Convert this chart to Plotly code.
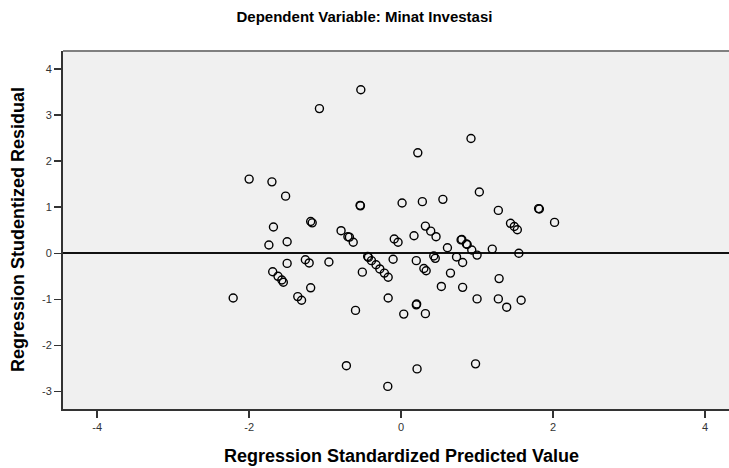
import plotly.graph_objects as go

predicted = [
    -2.21, -2.00, -1.70, -1.52, -1.075, -0.53, -0.54, -0.535,
    -1.68, -1.74, -1.50, -1.50, -1.69, -1.62, -1.57, -1.55,
    -1.36, -1.31, -1.19, -1.26, -1.21, -1.19, -1.17, -0.95,
    -0.79, -0.70, -0.68, -0.63, -0.72, -0.60, -0.51, -0.44,
    -0.43, -0.39, -0.33, -0.28, -0.22, -0.17, -0.17, -0.175,
    -0.105, -0.09, -0.04, 0.013, 0.035, 0.17, 0.20, 0.20,
    0.205, 0.21, 0.22, 0.28, 0.30, 0.33, 0.32, 0.32,
    0.39, 0.46, 0.43, 0.45, 0.53, 0.55, 0.61, 0.65,
    0.73, 0.79, 0.80, 0.86, 0.87, 0.81, 0.81, 0.92,
    0.93, 1.00, 1.00, 0.98, 1.03, 1.20, 1.28, 1.29,
    1.28, 1.39, 1.44, 1.49, 1.53, 1.55, 1.58, 1.81,
    1.82, 2.02,
]
residual = [
    -0.97, 1.61, 1.55, 1.24, 3.14, 3.55, 1.04, 1.03,
    0.57, 0.18, 0.25, -0.22, -0.40, -0.50, -0.58, -0.63,
    -0.94, -1.02, -0.75, -0.14, -0.21, 0.69, 0.66, -0.19,
    0.49, 0.36, 0.35, 0.24, -2.44, -1.24, -0.41, -0.07,
    -0.09, -0.16, -0.25, -0.34, -0.43, -0.52, -0.97, -2.89,
    -0.13, 0.31, 0.24, 1.09, -1.32, 0.38, -0.16, -1.12,
    -1.10, -2.51, 2.18, 1.12, -0.33, -0.38, -1.31, 0.59,
    0.48, 0.36, -0.06, -0.11, -0.72, 1.17, 0.12, -0.43,
    -0.08, 0.29, 0.30, 0.20, 0.19, -0.20, -0.74, 2.49,
    0.07, -0.04, -0.99, -2.40, 1.33, 0.09, 0.93, -0.55,
    -0.99, -1.17, 0.65, 0.58, 0.51, 0.00, -1.02, 0.97,
    0.96, 0.67,
]

x_ticks = [-4, -2, 0, 2, 4]
x_tick_labels = ["-4", "-2", "0", "2", "4"]
y_ticks = [-3, -2, -1, 0, 1, 2, 3, 4]
y_tick_labels = ["-3", "-2", "-1", "0", "1", "2", "3", "4"]

title_text = "Dependent Variable: Minat Investasi"
x_title = "Regression Standardized Predicted Value"
y_title = "Regression Studentized Residual"

FONT = "Arial, Liberation Sans, sans-serif"

fig = go.Figure()
fig.add_trace(go.Scatter(
    x=predicted, y=residual, mode="markers",
    marker=dict(symbol="circle-open", size=8, color="black",
                line=dict(width=1.4, color="black")),
    showlegend=False, hoverinfo="skip",
))

fig.update_layout(
    width=729, height=468,
    margin=dict(l=63, r=0, t=51, b=59),
    paper_bgcolor="white",
    plot_bgcolor="#F0F0F0",
    font=dict(family=FONT, size=11, color="#333333"),
    title=dict(text="<b>" + title_text + "</b>", x=0.5, xref="container",
               xanchor="center", y=1 - 17 / 468, yanchor="middle",
               font=dict(family=FONT, size=15, color="black")),
    xaxis=dict(range=[-4.45, 4.316], tickvals=x_ticks, ticktext=x_tick_labels,
               showgrid=False, zeroline=False, showline=True,
               linecolor="#333333", linewidth=2,
               ticks="outside", ticklen=7, tickwidth=1.5, tickcolor="#333333",
               tickfont=dict(size=11, color="#333333")),
    yaxis=dict(range=[-3.38, 4.39], tickvals=y_ticks, ticktext=y_tick_labels,
               showgrid=False,
               zeroline=True, zerolinecolor="#111111", zerolinewidth=2,
               showline=True, linecolor="#333333", linewidth=2,
               ticks="outside", ticklen=7, tickwidth=1.5, tickcolor="#333333",
               tickfont=dict(size=11, color="#333333")),
    shapes=[dict(type="line", xref="paper", yref="paper", x0=0, x1=1, y0=1, y1=1,
                 line=dict(color="#808080", width=2))],
    annotations=[
        dict(text="<b>" + x_title + "</b>", xref="x", x=0, yref="paper", y=0,
             yshift=-47, xanchor="center", yanchor="middle", showarrow=False,
             font=dict(family=FONT, size=18, color="black")),
        dict(text="<b>" + y_title + "</b>", xref="paper", x=0, xshift=-45,
             yref="paper", y=0.5, xanchor="center", yanchor="middle",
             textangle=-90, showarrow=False,
             font=dict(family=FONT, size=18, color="black")),
    ],
)

fig.write_html("out.html",
               config={"displayModeBar": False, "staticPlot": True},
               post_script="document.body.style.margin='0';document.body.style.overflow='hidden';")
